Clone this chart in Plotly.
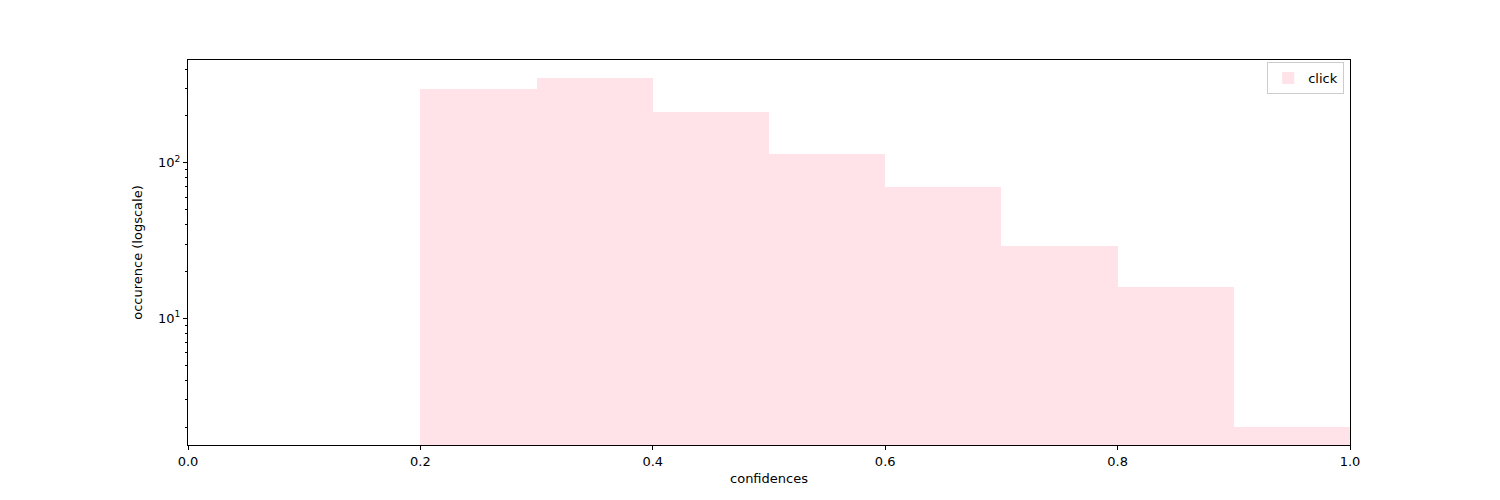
import plotly.graph_objects as go

bin_edges = [0.2, 0.3, 0.4, 0.5, 0.6, 0.7, 0.8, 0.9, 1.0]
counts = [297, 350, 213, 114, 70, 29, 16, 2]
series_name = "click"
x_ticks = [0.0, 0.2, 0.4, 0.6, 0.8, 1.0]
x_ticklabels = ["0.0", "0.2", "0.4", "0.6", "0.8", "1.0"]
y_ticks = [10, 100]
y_ticklabels = ["10<sup>1</sup>", "10<sup>2</sup>"]

centers = [(a + b) / 2 for a, b in zip(bin_edges[:-1], bin_edges[1:])]
widths = [b - a for a, b in zip(bin_edges[:-1], bin_edges[1:])]

font = dict(family="DejaVu Sans", size=13, color="black")

fig = go.Figure()
fig.add_trace(go.Bar(
    x=centers, y=counts, width=widths, name=series_name,
    marker=dict(color="rgba(255,192,203,0.45)", line=dict(width=0)),
    showlegend=True,
))

fig.update_layout(
    width=1500, height=500,
    margin=dict(l=180, r=158, t=52, b=63),
    paper_bgcolor="white", plot_bgcolor="white",
    font=font,
    bargap=0,
    legend=dict(x=0.995, y=0.995, xanchor="right", yanchor="top",
                bordercolor="#cccccc", borderwidth=1, bgcolor="white",
                font=dict(family="DejaVu Sans", size=13)),
    xaxis=dict(range=[0, 1], tickvals=x_ticks, ticktext=x_ticklabels,
               showline=True, linecolor="black", linewidth=1, mirror=True,
               ticks="outside", ticklen=4, tickcolor="black", showgrid=False, zeroline=False,
               automargin=False,
               title=dict(text="confidences", standoff=6, font=font)),
    yaxis=dict(type="log", range=[0.186, 2.66], tickvals=y_ticks, ticktext=y_ticklabels,
               showline=True, linecolor="black", linewidth=1, mirror=True,
               ticks="outside", ticklen=4, tickcolor="black", showgrid=False, zeroline=False,
               automargin=False,
               minor=dict(ticks="outside", ticklen=2, tickcolor="black", dtick="D1", showgrid=False),
               title=dict(text="occurence (logscale)", standoff=12, font=font)),
)

fig.write_html("out.html")
